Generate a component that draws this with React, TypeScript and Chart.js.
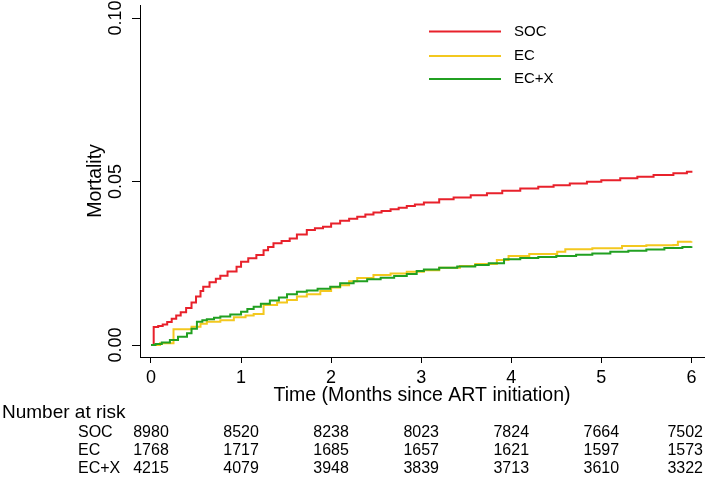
import React, { useEffect, useRef } from "react";
import { Chart, registerables } from "chart.js";

Chart.register(...registerables);

// ---------- data ----------
const groupLabels = ["SOC", "EC", "EC+X"];

const socTime = [
  0, 0.03, 0.08, 0.13, 0.18, 0.23, 0.28, 0.33, 0.39, 0.45, 0.5, 0.55, 0.58, 0.65, 0.72, 0.77,
  0.85, 0.95, 1.0, 1.08, 1.17, 1.25, 1.3, 1.36, 1.45, 1.54, 1.62, 1.73, 1.82, 1.91, 2.0, 2.1,
  2.2, 2.29, 2.38, 2.47, 2.56, 2.66, 2.75, 2.84, 2.93, 3.03, 3.2, 3.36, 3.55, 3.73, 3.9, 4.1,
  4.3, 4.47, 4.65, 4.84, 5.0, 5.21, 5.4, 5.58, 5.8, 5.95, 6.0,
];
const socMortality = [
  0, 0.0055, 0.0058, 0.0063, 0.007, 0.008, 0.009, 0.01, 0.0113, 0.013, 0.0148, 0.0165, 0.0178,
  0.0192, 0.0203, 0.0212, 0.0225, 0.0239, 0.0255, 0.0265, 0.0275, 0.029, 0.03, 0.0311, 0.0318,
  0.0326, 0.0338, 0.0352, 0.0357, 0.0362, 0.0372, 0.038, 0.0386, 0.0392, 0.0399, 0.0405, 0.041,
  0.0415, 0.042, 0.0425, 0.043, 0.0436, 0.0446, 0.0451, 0.0458, 0.0464, 0.0472, 0.0479, 0.0484,
  0.0489, 0.0494, 0.0499, 0.0504, 0.051, 0.0515, 0.052, 0.0525, 0.053, 0.0533,
];

const ecTime = [
  0, 0.1, 0.25, 0.45, 0.55, 0.62, 0.77, 0.92, 1.05, 1.14, 1.25, 1.4, 1.51, 1.62, 1.73, 1.88,
  2.0, 2.1, 2.2, 2.29, 2.47, 2.66, 2.84, 3.03, 3.2, 3.43, 3.6, 3.84, 3.97, 4.2, 4.51, 4.6, 4.9,
  5.23, 5.5, 5.8, 5.85, 6.0,
];
const ecMortality = [
  0, 0.0005, 0.0048, 0.0056, 0.0065, 0.0071, 0.0076, 0.0085, 0.009, 0.0095, 0.0122, 0.013,
  0.0138, 0.0148, 0.0155, 0.0165, 0.0176, 0.0183, 0.0195, 0.0205, 0.0214, 0.0219, 0.0224,
  0.0229, 0.0236, 0.0242, 0.0248, 0.026, 0.0272, 0.0278, 0.0285, 0.0293, 0.0296, 0.0303,
  0.0305, 0.0306, 0.0316, 0.0317,
];

const ecxTime = [
  0, 0.05, 0.12, 0.21, 0.3, 0.4, 0.45, 0.51, 0.57, 0.62, 0.7, 0.77, 0.88, 1.0, 1.07, 1.14, 1.22,
  1.32, 1.42, 1.51, 1.62, 1.73, 1.85, 1.99, 2.1, 2.25, 2.4, 2.55, 2.7, 2.84, 2.95, 3.03, 3.2,
  3.4, 3.6, 3.75, 3.92, 4.1, 4.3, 4.5, 4.72, 4.9, 5.1, 5.3, 5.5, 5.7, 5.9, 6.0,
];
const ecxMortality = [
  0, 0.0003, 0.0008, 0.0015, 0.0025, 0.0036, 0.005, 0.0071, 0.0076, 0.0079, 0.0083, 0.0087,
  0.0093, 0.0102, 0.011, 0.0117, 0.0126, 0.0136, 0.0145, 0.0155, 0.0163, 0.0167, 0.0172,
  0.0178, 0.0189, 0.0195, 0.0201, 0.0206, 0.0211, 0.0217, 0.0226, 0.0231, 0.0236, 0.024,
  0.0245, 0.025, 0.0262, 0.0266, 0.0269, 0.0272, 0.0276, 0.028, 0.0285, 0.0288, 0.0292,
  0.0297, 0.03, 0.0302,
];

const xTickValues = [0, 1, 2, 3, 4, 5, 6];
const yTickValues = [0, 0.05, 0.1];

const riskTimes = [0, 1, 2, 3, 4, 5, 6];
const socAtRisk = [8980, 8520, 8238, 8023, 7824, 7664, 7502];
const ecAtRisk = [1768, 1717, 1685, 1657, 1621, 1597, 1573];
const ecxAtRisk = [4215, 4079, 3948, 3839, 3713, 3610, 3322];

// ---------- styles ----------
const FONT = '"Liberation Sans", Arial, Helvetica, sans-serif';
const RED = "#e8212b";
const YELLOW = "#f3c81f";
const GREEN = "#21a021";

function toPoints(t: number[], v: number[]) {
  return t.map((x, i) => ({ x, y: v[i] }));
}

export default function App() {
  const ref = useRef<HTMLCanvasElement>(null);

  useEffect(() => {
    const canvas = ref.current;
    if (!canvas) return;

    const legendPlugin = {
      id: "kmLegend",
      afterDraw(chart: any) {
        const ctx = chart.ctx;
        const rows = [31.5, 56, 79];
        ctx.save();
        ctx.font = `15px ${FONT}`;
        ctx.textBaseline = "middle";
        ctx.textAlign = "left";
        const byLabel: Record<string, any> = {};
        chart.data.datasets.forEach((d: any) => (byLabel[d.label] = d));
        groupLabels.forEach((lab, i) => {
          const d = byLabel[lab];
          ctx.strokeStyle = d.borderColor;
          ctx.lineWidth = 2;
          ctx.beginPath();
          ctx.moveTo(429, rows[i]);
          ctx.lineTo(501, rows[i]);
          ctx.stroke();
          ctx.fillStyle = "#000";
          ctx.fillText(lab, 514, rows[i]);
        });
        ctx.restore();
      },
    };

    const riskPlugin = {
      id: "riskTable",
      afterDraw(chart: any) {
        const ctx = chart.ctx;
        const xs = chart.scales.x;
        ctx.save();
        ctx.fillStyle = "#000";
        ctx.textBaseline = "middle";
        ctx.textAlign = "left";
        ctx.font = `19px ${FONT}`;
        ctx.fillText("Number at risk", 2, 413);
        const rowsY = [433, 451, 469];
        const tables = [socAtRisk, ecAtRisk, ecxAtRisk];
        ctx.font = `16px ${FONT}`;
        groupLabels.forEach((lab, r) => {
          ctx.textAlign = "left";
          ctx.fillText(lab, 78, rowsY[r]);
          ctx.textAlign = "center";
          riskTimes.forEach((t, k) => {
            const txt = String(tables[r][k]);
            const w = ctx.measureText(txt).width;
            const px = Math.min(xs.getPixelForValue(t), chart.width - 6 - w / 2);
            ctx.fillText(txt, px, rowsY[r]);
          });
        });
        ctx.restore();
      },
    };

    const chart = new Chart(canvas, {
      type: "line",
      data: {
        datasets: [
          {
            label: "SOC",
            data: toPoints(socTime, socMortality),
            borderColor: RED,
            order: 3,
          },
          {
            label: "EC",
            data: toPoints(ecTime, ecMortality),
            borderColor: YELLOW,
            order: 2,
          },
          {
            label: "EC+X",
            data: toPoints(ecxTime, ecxMortality),
            borderColor: GREEN,
            order: 1,
          },
        ] as any,
      },
      options: {
        animation: false,
        responsive: false,
        maintainAspectRatio: false,
        layout: { padding: { left: 0, top: 5, right: 5, bottom: 0 } },
        datasets: {
          line: {
            stepped: true,
            borderWidth: 2,
            pointRadius: 0,
            fill: false,
          },
        } as any,
        plugins: {
          legend: { display: false },
          tooltip: { enabled: false },
        },
        scales: {
          x: {
            type: "linear",
            min: -0.122,
            max: 6.14,
            afterBuildTicks: (s: any) => {
              s.ticks = xTickValues.map((v) => ({ value: v }));
            },
            afterFit: (s: any) => {
              s.height = 126;
              s.paddingLeft = 0;
              s.paddingRight = 0;
            },
            grid: {
              drawOnChartArea: false,
              drawTicks: true,
              tickLength: 6,
              color: "#000",
            },
            border: { display: true, color: "#000", width: 1 },
            ticks: {
              color: "#000",
              font: { family: FONT, size: 18 },
              padding: 4,
              maxRotation: 0,
              minRotation: 0,
              autoSkip: false,
              callback: (v: any) => String(v),
            },
            title: {
              display: true,
              text: "Time (Months since ART initiation)",
              color: "#000",
              font: { family: FONT, size: 19.5 },
              padding: { top: 0, bottom: 76 },
            },
          },
          y: {
            type: "linear",
            min: -0.00367,
            max: 0.104,
            afterBuildTicks: (s: any) => {
              s.ticks = yTickValues.map((v) => ({ value: v }));
            },
            afterFit: (s: any) => {
              s.width = 140;
              s.paddingTop = 0;
              s.paddingBottom = 0;
            },
            grid: {
              drawOnChartArea: false,
              drawTicks: true,
              tickLength: 8,
              color: "#000",
            },
            border: { display: true, color: "#000", width: 1 },
            ticks: {
              color: "#000",
              font: { family: FONT, size: 18 },
              padding: -2,
              minRotation: 90,
              maxRotation: 90,
              crossAlign: "center",
              autoSkip: false,
              callback: (v: any) => Number(v).toFixed(2),
            },
            title: {
              display: true,
              text: "Mortality",
              color: "#000",
              font: { family: FONT, size: 19.5 },
              padding: { top: 84, bottom: 0 },
            },
          },
        },
      },
      plugins: [legendPlugin, riskPlugin],
    } as any);

    return () => chart.destroy();
  }, []);

  return (
    <div
      style={{
        position: "absolute",
        left: 0,
        top: 0,
        width: 709,
        height: 483,
        background: "#fff",
      }}
    >
      <canvas ref={ref} width={709} height={483} style={{ display: "block" }} />
    </div>
  );
}
